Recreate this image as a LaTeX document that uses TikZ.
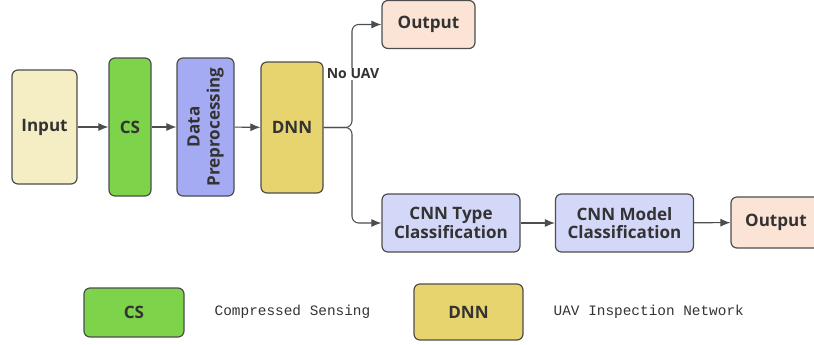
\documentclass[tikz,border=0pt]{standalone}
\usepackage{fontspec}
\setmainfont{Open Sans}
\setmonofont{Liberation Mono}
\usepackage{tikz}
\usetikzlibrary{shapes,arrows,arrows.meta,positioning,calc}
\usepackage{xcolor}

\definecolor{inputfill}{HTML}{F5EDC4}
\definecolor{csfill}{HTML}{7DD349}
\definecolor{prepfill}{HTML}{A4ABF2}
\definecolor{dnnfill}{HTML}{E8D46E}
\definecolor{outfill}{HTML}{FBE4D5}
\definecolor{cnnfill}{HTML}{D4D8F8}
\definecolor{edge}{HTML}{4D4D4D}
\definecolor{ink}{HTML}{333333}

\begin{document}
\begin{tikzpicture}[x=0.75pt, y=-0.75pt]
    \tikzstyle{block} = [rectangle, draw=edge, line width=0.9pt, rounded corners=4.5pt, text=ink, font=\bfseries\fontsize{12.8}{14}\selectfont, align=center, inner sep=2pt]
    \tikzstyle{legendtext} = [text=ink, font=\ttfamily\fontsize{10.8}{12}\selectfont, anchor=west]
    \tikzstyle{link} = [line width=0.8pt, draw=edge, -{Latex[length=7.5pt,width=6pt]}]

    \useasboundingbox (0,0) rectangle (814,344);

    % Blocks
    \node[block, fill=inputfill, minimum width=48.75pt, minimum height=85.5pt] (input) at (44.5,127) {Input};
    \node[block, fill=csfill, minimum width=31.5pt, minimum height=103.5pt] (cs) at (130,127) {CS};
    \node[block, fill=prepfill, rotate=90, minimum width=103.5pt, minimum height=42.75pt, font=\bfseries\fontsize{12.8}{15}\selectfont] (prep) at (205.5,127) {Data\\Preprocessing};
    \node[block, fill=dnnfill, minimum width=46.5pt, minimum height=98.25pt] (dnn) at (292,127.5) {DNN};
    \node[block, fill=outfill, minimum width=69.75pt, minimum height=36pt] (outtop) at (428.5,24.5) {Output};
    \node[block, fill=cnnfill, minimum width=103.5pt, minimum height=43.5pt] (cnntype) at (451,223) {CNN Type\\Classification};
    \node[block, fill=cnnfill, minimum width=103.5pt, minimum height=43.5pt] (cnnmodel) at (624.5,223) {CNN Model\\Classification};
    \node[block, fill=outfill, minimum width=67.5pt, minimum height=38.25pt] (outright) at (776,222.5) {Output};

    % Links
    \coordinate (split) at (352,127.5);
    \draw[link] (input) -- (cs);
    \draw[link] (cs) -- (prep);
    \draw[link] (prep) -- (dnn);
    \draw[link, rounded corners=5pt] (dnn.east) -- (split) |- (outtop.west);
    \draw[link, rounded corners=5pt] (dnn.east) -- (split) |- (cnntype.west);
    \draw[link] (cnntype) -- (cnnmodel);
    \draw[link] (cnnmodel) -- (outright);
    \node[fill=white, text=ink, font=\bfseries\fontsize{10.5}{12}\selectfont, inner sep=1pt] (nouav) at (353,74) {No UAV};

    % Legend
    \node[block, fill=csfill, minimum width=75pt, minimum height=36.75pt] (legcs) at (134,312.5) {CS};
    \node[legendtext] (legcstext) at (210,312) {Compressed Sensing};
    \node[block, fill=dnnfill, minimum width=81.75pt, minimum height=42pt] (legdnn) at (468.5,312) {DNN};
    \node[legendtext] (legdnntext) at (549,312) {UAV Inspection Network};
\end{tikzpicture}
\end{document}
